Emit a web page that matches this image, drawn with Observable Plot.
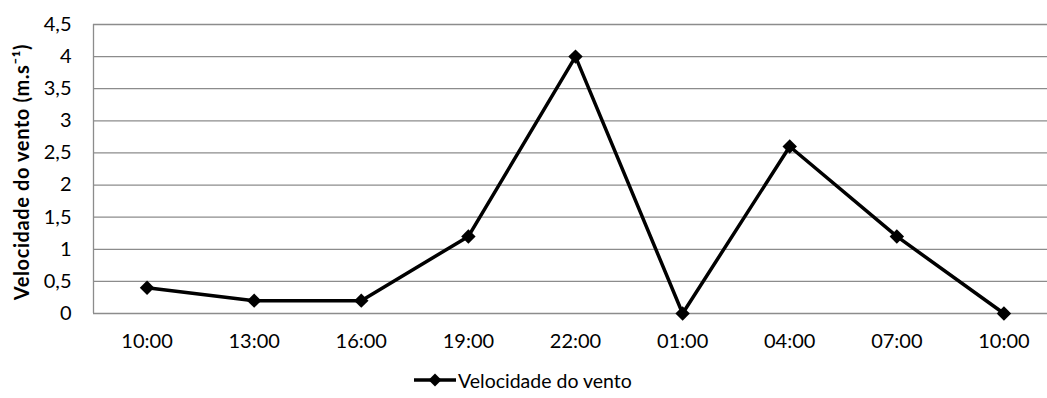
<!DOCTYPE html>
<html>
<head>
<meta charset="utf-8">
<script src="https://cdn.jsdelivr.net/npm/d3@7"></script>
<script src="https://cdn.jsdelivr.net/npm/@observablehq/plot@0.6"></script>
<style>
  html, body { margin: 0; padding: 0; background: #fff; }
  #chart { width: 1047px; overflow: hidden; font-family: Lato, "Open Sans", sans-serif; }
  .legend { height: 36px; display: flex; align-items: center; justify-content: flex-start; padding-left: 414px; font-size: 19.5px; color: #000; }
  .legend svg { display: block; margin-right: 2px; }
</style>
</head>
<body>
<div id="chart"></div>
<script>
// Hour of each reading (the 24 h cycle starts and ends at 10:00)
const hours = ["10:00", "13:00", "16:00", "19:00", "22:00", "01:00", "04:00", "07:00", "10:00"];
// Wind speed in m/s
const speeds = [0.4, 0.2, 0.2, 1.2, 4.0, 0, 2.6, 1.2, 0];
const yTicks = [0, 0.5, 1, 1.5, 2, 2.5, 3, 3.5, 4, 4.5];
const seriesName = "Velocidade do vento";
const yTitle = "Velocidade do vento (m.s⁻¹)";

const data = hours.map((h, i) => ({i, hour: h, speed: speeds[i]}));
const fmt = v => String(v).replace(".", ",");

const plot = Plot.plot({
  width: 1047,
  height: 362,
  marginTop: 24,
  marginBottom: 49,
  marginLeft: 93,
  marginRight: 0,
  style: {fontFamily: "Lato, 'Open Sans', sans-serif", fontSize: "20px", color: "#000", background: "#fff"},
  x: {type: "linear", domain: [-0.5, hours.length - 0.5], range: [93, 1057]},
  y: {domain: [0, 4.5]},
  marks: [
    Plot.ruleY(yTicks, {stroke: "#8c8c8c", strokeWidth: 1.3}),
    Plot.ruleX([-0.5], {stroke: "#8c8c8c", strokeWidth: 1.3}),
    Plot.axisY({ticks: yTicks, tickFormat: fmt, tickSize: 0, tickPadding: 22, label: null, fontSize: 20}),
    Plot.axisX({ticks: d3.range(hours.length), tickFormat: i => hours[i], tickSize: 0, tickPadding: 20, label: null, fontSize: 20}),
    Plot.text([yTitle], {
      frameAnchor: "left", textAnchor: "middle", dx: -71, dy: 3, rotate: -90, fontWeight: "bold", fontSize: 20
    }),
    Plot.line(data, {x: "i", y: "speed", stroke: "#000", strokeWidth: 3.5}),
    Plot.dot(data, {x: "i", y: "speed", symbol: "diamond2", r: 6.5, fill: "#000", stroke: "none"})
  ]
});

// Slightly looser tracking on the axis title
d3.select(plot).selectAll("text").filter(function () { return this.textContent === yTitle; })
  .attr("letter-spacing", "0.6px");

const chart = document.getElementById("chart");
chart.appendChild(plot);

// Legend row below the chart
const legend = document.createElement("div");
legend.className = "legend";
legend.innerHTML = `<svg width="42" height="16" viewBox="0 0 42 16">
  <line x1="0" y1="8" x2="42" y2="8" stroke="#000" stroke-width="3.5"/>
  <path d="M21 1.5 L27.5 8 L21 14.5 L14.5 8 Z" fill="#000"/>
</svg><span>${seriesName}</span>`;
chart.appendChild(legend);
</script>
</body>
</html>
